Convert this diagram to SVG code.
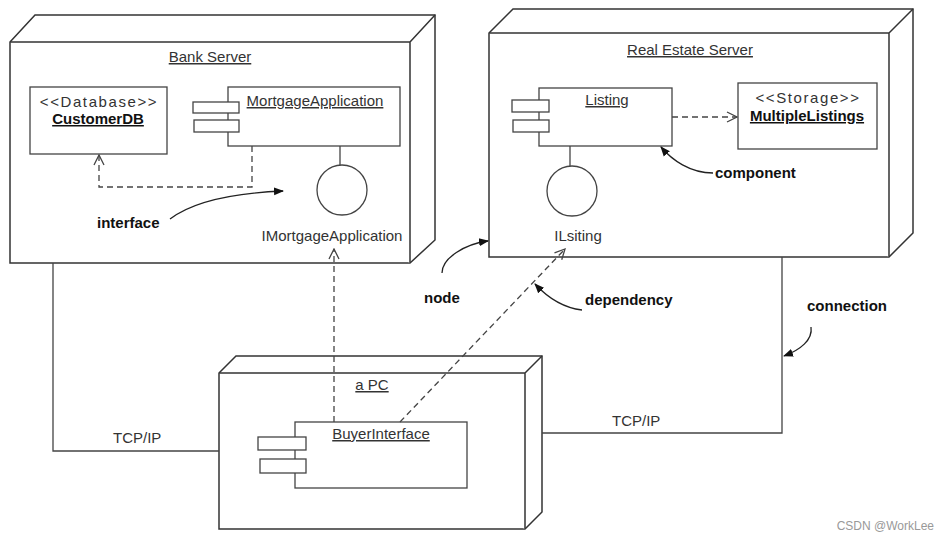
<svg xmlns="http://www.w3.org/2000/svg" width="947" height="539" viewBox="0 0 947 539">
<style>
.n{fill:#fff;stroke:#333;stroke-width:1.5}
.b{fill:#fff;stroke:#444;stroke-width:1.3}
.ln{fill:none;stroke:#444;stroke-width:1.3}
.ds{fill:none;stroke:#444;stroke-width:1.3;stroke-dasharray:6 4}
.an{fill:none;stroke:#222;stroke-width:1.3}
.t{font-family:"Liberation Sans",Arial,sans-serif;font-size:15px;fill:#333}
.u{text-decoration:underline}
.bd{font-weight:bold;fill:#111}
.c{text-anchor:middle}
.st{letter-spacing:1.6px}
</style>
<defs>
<marker id="open" viewBox="0 0 12 12" refX="11" refY="6" markerWidth="12" markerHeight="12" markerUnits="userSpaceOnUse" orient="auto">
<path d="M1,1 L11,6 L1,11" fill="none" stroke="#444" stroke-width="1.3"/>
</marker>
<marker id="fill" viewBox="0 0 10 10" refX="9" refY="5" markerWidth="10" markerHeight="10" markerUnits="userSpaceOnUse" orient="auto">
<path d="M0,1 L10,5 L0,9 Z" fill="#111"/>
</marker>
</defs>

<g id="bank-server">
<path class="n" d="M10,42 L35,15 L435,15 L435,240 L410,263 L10,263 Z"/>
<path class="n" d="M10,42 L410,42 L410,263 M410,42 L435,15"/>
<text class="t c u" x="210" y="62">Bank Server</text>
</g>

<g id="customerdb">
<rect class="b" x="30" y="87" width="137" height="67"/>
<text class="t c st" x="99" y="107">&lt;&lt;Database&gt;&gt;</text>
<text class="t c u bd" x="98" y="124">CustomerDB</text>
</g>

<g id="mortgage-application">
<rect class="b" x="228" y="87" width="172" height="59"/>
<rect class="b" x="193" y="102" width="46" height="11"/>
<rect class="b" x="194" y="120" width="45" height="12"/>
<text class="t c u" x="315" y="106">MortgageApplication</text>
<path class="ln" d="M340,146 L340,166"/>
</g>

<g id="imortgageapplication">
<circle class="b" cx="342" cy="190" r="25"/>
<text class="t c" x="332" y="241">IMortgageApplication</text>
</g>

<g id="real-estate-server">
<path class="n" d="M489,33 L513,9 L913,9 L913,233 L889,257 L489,257 Z"/>
<path class="n" d="M489,33 L889,33 L889,257 M889,33 L913,9"/>
<text class="t c u" x="690" y="55">Real Estate Server</text>
</g>

<g id="listing">
<rect class="b" x="539" y="88" width="133" height="58"/>
<rect class="b" x="512" y="100" width="37" height="12"/>
<rect class="b" x="513" y="120" width="36" height="12"/>
<text class="t c u" x="607" y="105">Listing</text>
<path class="ln" d="M570,146 L570,166"/>
</g>

<g id="ilsiting">
<circle class="b" cx="572" cy="191" r="25"/>
<text class="t c" x="578" y="241">ILsiting</text>
</g>

<g id="multiplelistings">
<rect class="b" x="738" y="83" width="139" height="66"/>
<text class="t c st" x="808" y="103">&lt;&lt;Storage&gt;&gt;</text>
<text class="t c u bd" x="807" y="121">MultipleListings</text>
</g>

<g id="a-pc">
<path class="n" d="M219,373 L236,356 L542,356 L542,512 L525,529 L219,529 Z"/>
<path class="n" d="M219,373 L525,373 L525,529 M525,373 L542,356"/>
<text class="t c u" x="372" y="390">a PC</text>
</g>

<g id="buyerinterface">
<rect class="b" x="295" y="422" width="172" height="66"/>
<rect class="b" x="258" y="437" width="48" height="13"/>
<rect class="b" x="260" y="459" width="46" height="14"/>
<text class="t c u" x="381" y="439">BuyerInterface</text>
</g>

<g id="connectors">
<path class="ln" d="M53,263 L53,451 L219,451"/>
<path class="ln" d="M542,433 L782,433 L782,257"/>
<path class="ds" d="M252,146 L252,187 L99,187 L99,155" marker-end="url(#open)"/>
<path class="ds" d="M334,422 L334,249" marker-end="url(#open)"/>
<path class="ds" d="M400,422 L565,249" marker-end="url(#open)"/>
<path class="ds" d="M672,117 L737,117" marker-end="url(#open)"/>
</g>

<g id="labels">
<text class="t" x="113" y="443">TCP/IP</text>
<text class="t" x="612" y="426">TCP/IP</text>
<text class="t bd" x="97" y="228">interface</text>
<path class="an" d="M170,219 C195,200 235,193 283,191" marker-end="url(#fill)"/>
<text class="t bd" x="715" y="178">component</text>
<path class="an" d="M713,173 C690,173 672,160 661,147" marker-end="url(#fill)"/>
<text class="t bd" x="424" y="303">node</text>
<path class="an" d="M442,273 C442,258 465,244 488,241" marker-end="url(#fill)"/>
<text class="t bd" x="585" y="305">dependency</text>
<path class="an" d="M582,310 C565,308 548,298 535,284" marker-end="url(#fill)"/>
<text class="t bd" x="807" y="311">connection</text>
<path class="an" d="M811,327 C813,340 800,350 784,356" marker-end="url(#fill)"/>
<text x="934" y="530" text-anchor="end" font-family="Liberation Sans,Arial,sans-serif" font-size="12" fill="#999">CSDN @WorkLee</text>
</g>
</svg>
